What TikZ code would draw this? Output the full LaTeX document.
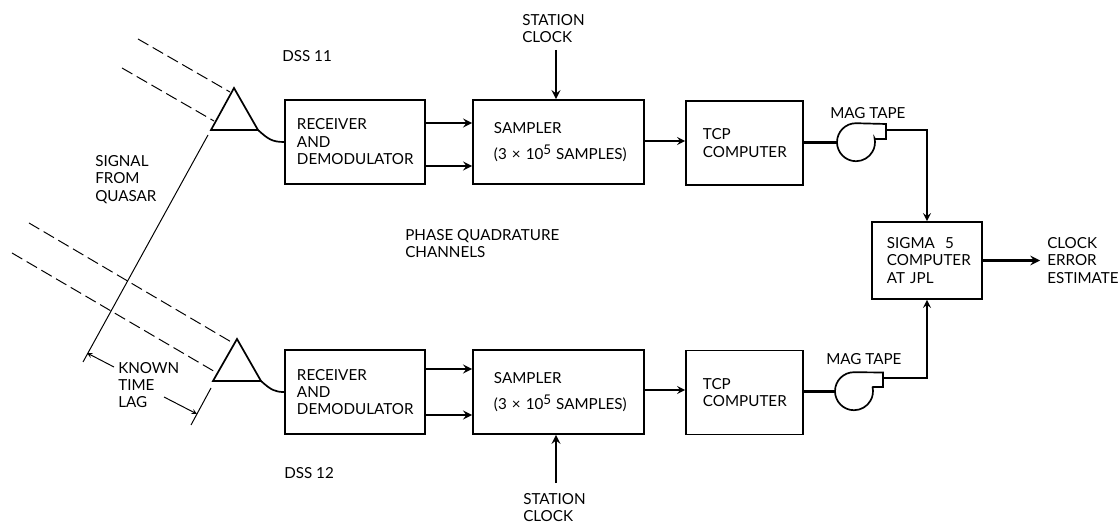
\documentclass[tikz,border=0pt]{standalone}
\usepackage{fontspec}
\setmainfont{Lato}
\usetikzlibrary{calc}

\newcommand{\samplecount}{\mbox{(3 × 10\raisebox{3.5pt}{\fontsize{9.5}{9.5}\selectfont 5} SAMPLES)}}

\begin{document}
\begin{tikzpicture}[>=stealth, x=0.025cm, y=-0.025cm,
		font=\fontsize{10.8}{12.4}\selectfont,
		blockbox/.style={draw, line width=1.2pt, align=left, minimum height=2.1cm},
		textlabel/.style={inner sep=0pt, anchor=west, align=left},
		feed/.style={line width=1.8pt},
		feedthin/.style={line width=1.5pt},
		ray/.style={line width=0.7pt, dash pattern=on 8.5pt off 3.6pt},
		front/.style={line width=0.7pt},
		dish/.style={line width=1.2pt, line join=miter},
		tapereel/.style={circle, inner sep=0pt, minimum size=0.95cm}]
		\useasboundingbox (0,0) rectangle (1119,524);
		% blocks, upper station
		\node[blockbox, text width=2.9cm, inner xsep=0.3cm] (rxA) at (355,142) {RECEIVER\\AND\\DEMODULATOR};
		\node[blockbox, text width=3.225cm, inner xsep=0.525cm] (samplerA) at (558.5,142) {SAMPLER\\[0.2cm]\samplecount};
		\node[blockbox, text width=2.075cm, inner xsep=0.425cm] (tcpA) at (744.5,143) {TCP\\COMPUTER};
		% blocks, lower station
		\node[blockbox, text width=2.9cm, inner xsep=0.3cm] (rxB) at (355,392) {RECEIVER\\AND\\DEMODULATOR};
		\node[blockbox, text width=3.225cm, inner xsep=0.525cm] (samplerB) at (558.5,392) {SAMPLER\\[0.2cm]\samplecount};
		\node[blockbox, text width=2.075cm, inner xsep=0.425cm] (tcpB) at (744.5,392.5) {TCP\\COMPUTER};
		% central computer
		\node[blockbox, minimum height=1.925cm, text width=2cm, inner xsep=0.375cm] (sigmaA) at (927,260.5) {SIGMA\ \ 5\\COMPUTER\\AT JPL};
		% labels
		\node[textlabel] (clockA) at (522,28.5) {STATION\\CLOCK};
		\node[textlabel] (clockB) at (523,507.5) {STATION\\CLOCK};
		\node[textlabel] (dssA) at (282,56) {DSS 11};
		\node[textlabel] (dssB) at (284,473) {DSS 12};
		\node[textlabel] (phase) at (405,243.5) {PHASE QUADRATURE\\CHANNELS};
		\node[textlabel] (quasar) at (95,179.5) {SIGNAL\\FROM\\QUASAR};
		\node[textlabel] (lag) at (118,385) {KNOWN\\TIME\\LAG};
		\node[textlabel] (magA) at (830,113) {MAG TAPE};
		\node[textlabel] (magB) at (826,359) {MAG TAPE};
		\node[textlabel] (clockerr) at (1047,260.5) {CLOCK\\ERROR\\ESTIMATE};
		% antennas
		\coordinate (dishAt) at (234,88);
		\coordinate (dishAl) at (211,130);
		\coordinate (dishAr) at (258,130);
		\coordinate (dishBt) at (237,339);
		\coordinate (dishBl) at (213,381);
		\coordinate (dishBr) at (261,381);
		\draw[dish] (dishAt) -- (dishAl) -- (dishAr) -- cycle;
		\draw[dish] (dishBt) -- (dishBl) -- (dishBr) -- cycle;
		\draw[dish] (dishAr) .. controls (268,139) and (272,142) .. (rxA.west);
		\draw[dish] (dishBr) .. controls (271,390) and (275,392) .. (rxB.west);
		% incoming rays
		\draw[ray] (138,39) -- (230,92);
		\draw[ray] (122,68) -- (214,121);
		\draw[ray] (29,223) -- (233,343);
		\draw[ray] (12,253) -- (217,373);
		% wavefront and time lag
		\coordinate (lagA) at (87,353);
		\coordinate (lagB) at (197,414);
		\draw[front] (208,135) -- (83,362);
		\draw[front] (211,388) -- (191,425);
		\draw[->, front] (114,367) -- (lagA);
		\draw[->, front] (164,397) -- (lagB);
		% signal path, upper
		\draw[->, feed] (rxA.east |- 0,123) -- (samplerA.west |- 0,123);
		\draw[->, feed] (rxA.east |- 0,166) -- (samplerA.west |- 0,166);
		\draw[->, feedthin] (samplerA.east |- 0,141) -- (tcpA.west |- 0,141);
		\draw[->, feed] (556,50) -- (556,0 |- samplerA.north);
		% signal path, lower
		\draw[->, feed] (rxB.east |- 0,369) -- (samplerB.west |- 0,369);
		\draw[->, feed] (rxB.east |- 0,415) -- (samplerB.west |- 0,415);
		\draw[->, feedthin] (samplerB.east |- 0,390) -- (tcpB.west |- 0,390);
		\draw[->, feed] (556,483) -- (556,0 |- samplerB.south);
		% tape units
		\node[tapereel] (tapeA) at (856,142.5) {};
		\draw[dish] (tapeA.north) arc[start angle=-90, end angle=-372, radius=19] -- (875,139) -- (886,139) -- (886,124) -- cycle;
		\node[tapereel] (tapeB) at (854,391.5) {};
		\draw[dish] (tapeB.north) arc[start angle=-90, end angle=-372, radius=19] -- (873,387) -- (883,387) -- (883,372.5) -- cycle;
		\draw[feed] (tcpA.east |- tapeA) -- (tapeA);
		\draw[feedthin] (tcpB.east |- tapeB) -- (tapeB);
		\draw[->, feedthin] (886,130) -| (sigmaA.north);
		\draw[->, feedthin] (883,378) -| (sigmaA.south);
		\draw[->, line width=2pt] (sigmaA) -- ($(clockerr.west)+(-7,0)$);
	\end{tikzpicture}
\end{document}
